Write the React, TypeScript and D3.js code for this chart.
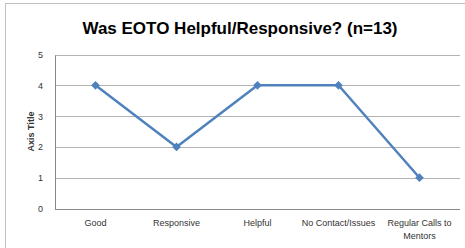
import React, { useEffect, useRef } from 'react';
import * as d3 from 'd3';

const categories = ['Good', 'Responsive', 'Helpful', 'No Contact/Issues', 'Regular Calls to Mentors'];
const values = [4, 2, 4, 4, 1];
const yTicks = [0, 1, 2, 3, 4, 5];

const App = () => {
  const ref = useRef<SVGSVGElement>(null);

  useEffect(() => {
    const svg = d3.select(ref.current);
    svg.selectAll('*').remove();

    const margin = { top: 54.5, left: 55, right: 5, bottom: 40 };
    const W = 465;

    svg.append('rect')
      .attr('x', 5.5).attr('y', 3.5)
      .attr('width', 470).attr('height', 260)
      .attr('fill', '#fff').attr('stroke', '#bfbfbf');

    const x = d3.scaleBand().domain(categories).range([margin.left, W - margin.right]);
    const y = d3.scaleLinear().domain([0, 5]).range([208.5, margin.top]);

    const font = 'Liberation Sans, Arial, sans-serif';

    svg.append('text')
      .attr('x', 240).attr('y', 34)
      .attr('text-anchor', 'middle')
      .style('font-family', font)
      .style('font-weight', 'bold')
      .style('font-size', '17px')
      .attr('fill', '#000')
      .text('Was EOTO Helpful/Responsive? (n=13)');

    // gridlines
    svg.append('g').selectAll('line').data(yTicks.filter(d => d > 0)).join('line')
      .attr('x1', margin.left).attr('x2', W - margin.right)
      .attr('y1', d => Math.round(y(d)) + 0.5).attr('y2', d => Math.round(y(d)) + 0.5)
      .attr('stroke', '#b3b3b3').attr('stroke-width', 1);

    // axes lines
    svg.append('line')
      .attr('x1', margin.left + 0.5).attr('x2', margin.left + 0.5)
      .attr('y1', Math.round(y(5)) + 0.5).attr('y2', Math.round(y(0)) + 0.5)
      .attr('stroke', '#888');
    svg.append('line')
      .attr('x1', margin.left).attr('x2', W - margin.right)
      .attr('y1', Math.round(y(0)) + 0.5).attr('y2', Math.round(y(0)) + 0.5)
      .attr('stroke', '#888');

    svg.append('g').selectAll('text').data(yTicks).join('text')
      .attr('x', 43).attr('y', d => y(d) + 3.5)
      .attr('text-anchor', 'end')
      .style('font-family', font).style('font-size', '9px')
      .attr('fill', '#333')
      .text(d => d);

    svg.append('text')
      .attr('transform', `translate(34,${(y(0) + y(5)) / 2}) rotate(-90)`)
      .attr('text-anchor', 'middle')
      .style('font-family', font).style('font-size', '9px').style('font-weight', 'bold')
      .attr('fill', '#333')
      .text('Axis Title');

    // category labels, wrapped like the original
    const labelLines: Record<string, string[]> = {
      'Regular Calls to Mentors': ['Regular Calls to', 'Mentors'],
    };
    const lg = svg.append('g');
    categories.forEach(c => {
      const lines = labelLines[c] || [c];
      const t = lg.append('text')
        .attr('text-anchor', 'middle')
        .style('font-family', font).style('font-size', '9px')
        .attr('fill', '#333');
      lines.forEach((l, i) => {
        t.append('tspan')
          .attr('x', x(c)! + x.bandwidth() / 2)
          .attr('y', 226 + i * 12.5)
          .text(l);
      });
    });

    const cx = (c: string) => x(c)! + x.bandwidth() / 2;
    const line = d3.line<number>()
      .x((d, i) => cx(categories[i]))
      .y(d => y(d));

    svg.append('path')
      .datum(values)
      .attr('fill', 'none')
      .attr('stroke', '#4f81bd')
      .attr('stroke-width', 2.5)
      .attr('stroke-linejoin', 'round')
      .attr('d', line);

    svg.append('g').selectAll('path').data(values).join('path')
      .attr('d', d3.symbol().type(d3.symbolDiamond2).size(48)())
      .attr('transform', (d, i) => `translate(${cx(categories[i])},${y(d)})`)
      .attr('fill', '#4f81bd');
  }, []);

  return <svg ref={ref} width={465} height={248} style={{ position: 'absolute', left: 0, top: 0 }} />;
};

export default App;
